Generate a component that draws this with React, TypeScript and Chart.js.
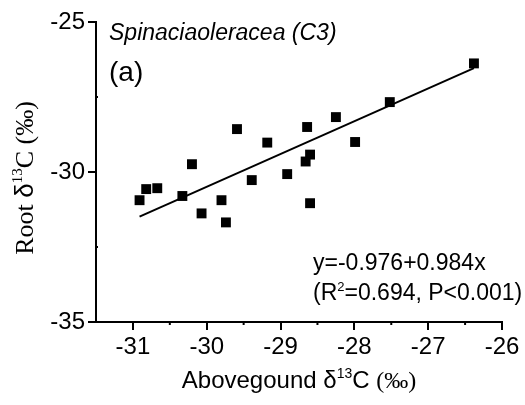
import React, { useEffect, useRef } from "react";
import { Chart, registerables } from "chart.js";

Chart.register(...registerables);

// Data (aboveground vs root δ13C, ‰)
const ABOVE = [-30.91, -30.82, -30.67, -30.33, -30.2, -30.07, -29.8, -29.74, -29.59, -29.39,
  -29.18, -28.91, -28.66, -28.6, -28.64, -28.6, -28.25, -27.99, -27.52, -26.38];
const ROOT = [-30.94, -30.57, -30.54, -30.8, -29.74, -31.38, -30.94, -31.68, -28.57, -30.27,
  -29.02, -30.07, -29.65, -29.42, -28.5, -31.04, -28.17, -29.0, -27.67, -26.38];
const FIT_X = [-30.91, -26.38];
const FIT_Y = [-31.49, -26.54];

const X_TICKS = [-31, -30, -29, -28, -27, -26];
const X_MINOR = [-30.5, -29.5, -28.5, -27.5, -26.5];
const Y_TICKS = [-35, -30, -25];
const Y_MINOR = [-32.5, -27.5];

const TITLE = "Spinaciaoleracea (C3)";
const PANEL = "(a)";
const EQUATION = "y=-0.976+0.984x";
const STATS_PRE = "(R";
const STATS_SUP = "2";
const STATS_POST = "=0.694, P<0.001)";

const SANS = "'Liberation Sans', Arial, sans-serif";
const SERIF = "'Liberation Serif', 'Times New Roman', serif";

type Seg = { text: string; font: string; dy?: number };

function drawRich(ctx: CanvasRenderingContext2D, segs: Seg[], x: number, y: number, align: "left" | "center") {
  let total = 0;
  const widths = segs.map((s) => {
    ctx.font = s.font;
    const w = ctx.measureText(s.text).width;
    total += w;
    return w;
  });
  let cx = align === "center" ? x - total / 2 : x;
  segs.forEach((s, i) => {
    ctx.font = s.font;
    ctx.fillText(s.text, cx, y + (s.dy || 0));
    cx += widths[i];
  });
}

const textPlugin = {
  id: "textPlugin",
  afterDraw(chart: any) {
    const ctx: CanvasRenderingContext2D = chart.ctx;
    const xs = chart.scales.x;
    const ys = chart.scales.y;
    const area = chart.chartArea;
    ctx.save();
    ctx.fillStyle = "#000";
    ctx.strokeStyle = "#000";
    ctx.textBaseline = "alphabetic";
    ctx.textAlign = "left";

    // minor ticks
    ctx.lineWidth = 2;
    X_MINOR.forEach((v) => {
      const px = xs.getPixelForValue(v);
      ctx.beginPath();
      ctx.moveTo(px, area.bottom);
      ctx.lineTo(px, area.bottom + 3);
      ctx.stroke();
    });
    Y_MINOR.forEach((v) => {
      const py = ys.getPixelForValue(v);
      ctx.beginPath();
      ctx.moveTo(area.left, py);
      ctx.lineTo(area.left + 2, py);
      ctx.stroke();
    });

    // title & panel label
    ctx.font = `italic 23px ${SANS}`;
    ctx.fillText(TITLE, 109, 40);
    ctx.font = `28px ${SANS}`;
    ctx.fillText(PANEL, 109, 81);

    // regression annotation
    ctx.font = `23px ${SANS}`;
    ctx.fillText(EQUATION, 313, 270);
    drawRich(ctx, [
      { text: STATS_PRE, font: `23px ${SANS}` },
      { text: STATS_SUP, font: `13px ${SANS}`, dy: -9 },
      { text: STATS_POST, font: `23px ${SANS}` },
    ], 313, 300, "left");

    // x-axis title
    drawRich(ctx, [
      { text: "Abovegound ", font: `24px ${SANS}` },
      { text: "δ", font: `24px ${SANS}` },
      { text: "13", font: `14px ${SANS}`, dy: -10 },
      { text: "C ", font: `24px ${SANS}` },
      { text: "(‰)", font: `24px ${SERIF}` },
    ], 299, 388, "center");

    // y-axis title (rotated)
    ctx.translate(33, 178);
    ctx.rotate(-Math.PI / 2);
    drawRich(ctx, [
      { text: "Root ", font: `26px ${SERIF}` },
      { text: "δ", font: `26px ${SANS}` },
      { text: "13", font: `15px ${SERIF}`, dy: -11 },
      { text: "C (‰)", font: `26px ${SERIF}` },
    ], 0, 0, "center");
    ctx.restore();
  },
};

export default function App() {
  const ref = useRef<HTMLCanvasElement>(null);
  useEffect(() => {
    if (!ref.current) return;
    const points = ABOVE.map((x, i) => ({ x, y: ROOT[i] }));
    const fit = FIT_X.map((x, i) => ({ x, y: FIT_Y[i] }));
    const tickFont = { family: SANS, size: 24 };
    const chart = new Chart(ref.current, {
      type: "scatter",
      data: {
        datasets: [
          {
            data: points,
            pointStyle: "rect",
            pointRadius: 7,
            backgroundColor: "#000",
            borderColor: "#000",
            borderWidth: 0,
          },
          {
            data: fit,
            showLine: true,
            pointRadius: 0,
            borderColor: "#000",
            borderWidth: 2,
          } as any,
        ],
      },
      options: {
        animation: false,
        responsive: false,
        layout: { padding: { left: 0, top: 22, right: 23, bottom: 0 } },
        plugins: { legend: { display: false }, tooltip: { enabled: false } },
        scales: {
          x: {
            type: "linear",
            min: -31.5,
            max: -26,
            afterBuildTicks: (s: any) => { s.ticks = X_TICKS.map((v) => ({ value: v })); },
            afterFit: (s: any) => { s.height = 83; },
            ticks: { color: "#000", font: tickFont, padding: 3, callback: (v: any) => String(v) },
            grid: { drawOnChartArea: false, drawTicks: true, tickLength: 8, color: "#000", lineWidth: 2 },
            border: { display: true, color: "#000", width: 2 },
          },
          y: {
            type: "linear",
            min: -35,
            max: -25,
            afterBuildTicks: (s: any) => { s.ticks = Y_TICKS.map((v) => ({ value: v })); },
            afterFit: (s: any) => { s.width = 96; },
            ticks: { color: "#000", font: tickFont, padding: 3, callback: (v: any) => String(v) },
            grid: { drawOnChartArea: false, drawTicks: true, tickLength: 8, color: "#000", lineWidth: 2 },
            border: { display: true, color: "#000", width: 2 },
          },
        },
      },
      plugins: [textPlugin],
    });
    return () => chart.destroy();
  }, []);
  return (
    <div style={{ position: "fixed", left: 0, top: 0, width: 525, height: 405, background: "#fff" }}>
      <canvas ref={ref} width={525} height={405} />
    </div>
  );
}
